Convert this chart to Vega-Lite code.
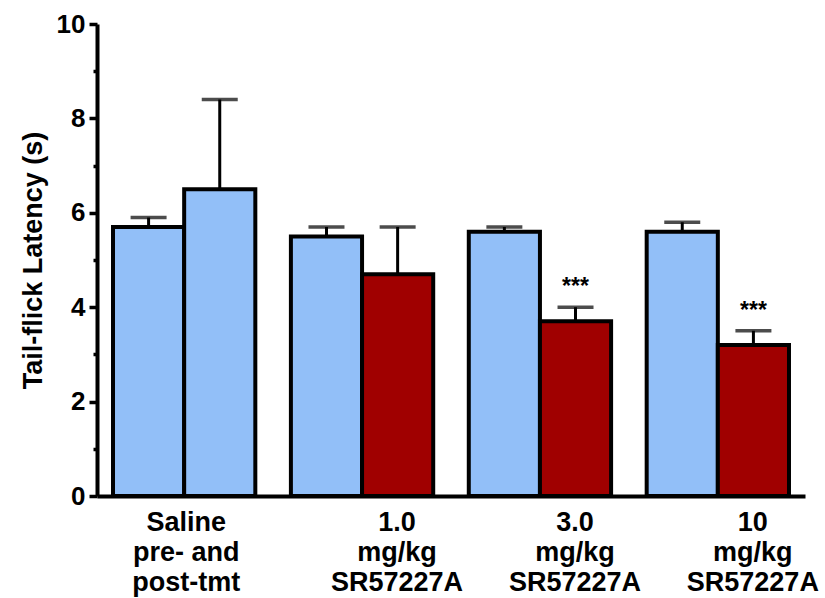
{
  "$schema": "https://vega.github.io/schema/vega-lite/v6.json",
  "width": 708,
  "height": 472,
  "autosize": "none",
  "padding": {"left": 97, "top": 24, "right": 20, "bottom": 102},
  "background": "white",
  "config": {"view": {"stroke": null}, "font": "Liberation Sans"},
  "data": {"values": [
    {"group": "Saline|pre- and|post-tmt", "phase": "pre", "treatment": "vehicle", "mean": 5.7, "upper": 5.9, "sig": ""},
    {"group": "Saline|pre- and|post-tmt", "phase": "post", "treatment": "vehicle", "mean": 6.5, "upper": 8.4, "sig": ""},
    {"group": "1.0|mg/kg|SR57227A", "phase": "pre", "treatment": "vehicle", "mean": 5.5, "upper": 5.7, "sig": ""},
    {"group": "1.0|mg/kg|SR57227A", "phase": "post", "treatment": "drug", "mean": 4.7, "upper": 5.7, "sig": ""},
    {"group": "3.0|mg/kg|SR57227A", "phase": "pre", "treatment": "vehicle", "mean": 5.6, "upper": 5.7, "sig": ""},
    {"group": "3.0|mg/kg|SR57227A", "phase": "post", "treatment": "drug", "mean": 3.7, "upper": 4.0, "sig": "***"},
    {"group": "10|mg/kg|SR57227A", "phase": "pre", "treatment": "vehicle", "mean": 5.6, "upper": 5.8, "sig": ""},
    {"group": "10|mg/kg|SR57227A", "phase": "post", "treatment": "drug", "mean": 3.2, "upper": 3.5, "sig": "***"}
  ]},
  "encoding": {
    "x": {
      "field": "group", "type": "nominal", "sort": null,
      "scale": {"paddingInner": 0.2, "paddingOuter": 0.09},
      "axis": {
        "title": null, "ticks": false, "domainWidth": 4, "domainColor": "black",
        "labelExpr": "split(datum.label, '|')",
        "labelFontSize": 27, "labelFontWeight": "bold", "labelColor": "black",
        "labelLineHeight": 30, "labelPadding": 13, "labelAngle": 0,
        "labelBaseline": "top", "labelLimit": 0, "labelOverlap": false, "labelBound": false, "labelFlush": false,
        "labelOffset": {"condition": {"test": "indexof(datum.label, 'Saline') == 0", "value": 2}, "value": 35}
      }
    },
    "xOffset": {"field": "phase", "type": "nominal", "sort": ["pre", "post"], "scale": {"paddingInner": 0, "paddingOuter": 0}}
  },
  "layer": [
    {
      "mark": {"type": "bar", "stroke": "black", "strokeWidth": 4},
      "encoding": {
        "y": {
          "field": "mean", "type": "quantitative", "scale": {"domain": [0, 10]},
          "axis": {
            "orient": "left", "values": [0, 2, 4, 6, 8, 10], "grid": false,
            "tickSize": 8, "tickWidth": 3.5, "tickColor": "black",
            "domainWidth": 4, "domainColor": "black",
            "labelFontSize": 26, "labelFontWeight": "bold", "labelColor": "black", "labelPadding": 4,
            "title": "Tail-flick Latency (s)", "titleFontSize": 27, "titleFontWeight": "bold", "titleColor": "black", "titlePadding": 9
          }
        },
        "color": {"field": "treatment", "type": "nominal", "scale": {"domain": ["vehicle", "drug"], "range": ["#92BFF8", "#A00000"]}, "legend": null}
      }
    },
    {
      "mark": {"type": "rule", "strokeWidth": 3, "color": "black"},
      "encoding": {
        "y": {
          "field": "mean", "type": "quantitative",
          "axis": {"orient": "left", "values": [1, 3, 5, 7, 9], "grid": false, "domain": false, "labels": false, "title": null, "tickSize": 4, "tickWidth": 3.5, "tickColor": "black"}
        },
        "y2": {"field": "upper"}
      }
    },
    {
      "mark": {"type": "tick", "thickness": 3.5, "size": 36, "color": "black", "orient": "horizontal"},
      "encoding": {"y": {"field": "upper", "type": "quantitative", "axis": null}}
    },
    {
      "mark": {"type": "text", "dy": -13, "fontSize": 23, "fontWeight": "bold", "baseline": "alphabetic", "color": "black"},
      "encoding": {"y": {"field": "upper", "type": "quantitative", "axis": null}, "text": {"field": "sig"}}
    }
  ],
  "resolve": {"axis": {"y": "independent"}}
}
